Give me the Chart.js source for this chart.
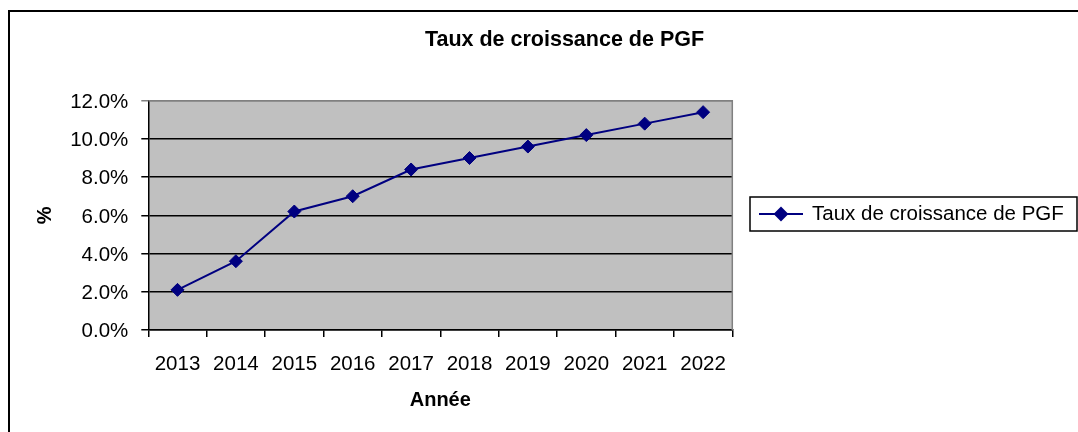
<!DOCTYPE html>
<html>
<head>
<meta charset="utf-8">
<script src="https://cdn.jsdelivr.net/npm/chart.js@4/dist/chart.umd.min.js"></script>
<style>
  html, body { margin: 0; padding: 0; background: #fff; }
  #wrap { width: 1078px; height: 432px; position: relative; }
</style>
</head>
<body>
<div id="wrap"><canvas id="c" width="1078" height="432"></canvas></div>
<script>
// ---- Data ----
const chartTitle = 'Taux de croissance de PGF';
const xAxisTitle = 'Année';
const yAxisTitle = '%';
const seriesName = 'Taux de croissance de PGF';
const categories = ['2013', '2014', '2015', '2016', '2017', '2018', '2019', '2020', '2021', '2022'];
const growthRates = [2.1, 3.6, 6.2, 7.0, 8.4, 9.0, 9.6, 10.2, 10.8, 11.4];
const yMin = 0, yMax = 12, yStep = 2;

const FONT = '"Liberation Sans", Arial, sans-serif';
Chart.defaults.font.family = FONT;
Chart.defaults.color = '#000';

const lineColor = '#000080';
const plotBg = '#C0C0C0';

const decorPlugin = {
  id: 'decor',
  beforeDraw(chart) {
    const { ctx, chartArea: a } = chart;
    ctx.save();
    ctx.fillStyle = '#fff';
    ctx.fillRect(0, 0, chart.width, chart.height);
    ctx.fillStyle = plotBg;
    ctx.fillRect(a.left, a.top, a.right - a.left, a.bottom - a.top);
    ctx.restore();
  },
  beforeDatasetsDraw(chart) {
    const { ctx, chartArea: a } = chart;
    ctx.save();
    ctx.strokeStyle = '#808080';
    ctx.lineWidth = 1.5;
    ctx.beginPath();
    ctx.moveTo(a.left, a.top);
    ctx.lineTo(a.right, a.top);
    ctx.lineTo(a.right, a.bottom);
    ctx.stroke();
    ctx.restore();
  },
  afterDraw(chart) {
    const { ctx } = chart;
    ctx.save();
    // outer chart border
    ctx.strokeStyle = '#000';
    ctx.lineWidth = 2;
    ctx.beginPath();
    ctx.moveTo(9, chart.height + 2);
    ctx.lineTo(9, 11);
    ctx.lineTo(chart.width + 2, 11);
    ctx.stroke();

    // title
    ctx.fillStyle = '#000';
    ctx.font = 'bold 21.5px ' + FONT;
    ctx.textAlign = 'center';
    ctx.textBaseline = 'middle';
    ctx.fillText(chartTitle, 564.5, 40);

    // legend
    const ds = chart.data.datasets[0];
    const lx = 750, ly = 197, lw = 327, lh = 34;
    ctx.fillStyle = '#fff';
    ctx.fillRect(lx, ly, lw, lh);
    ctx.strokeStyle = '#000';
    ctx.lineWidth = 1.5;
    ctx.strokeRect(lx, ly, lw, lh);
    const cy = ly + lh / 2;
    ctx.strokeStyle = ds.borderColor;
    ctx.lineWidth = 2;
    ctx.beginPath();
    ctx.moveTo(759, cy);
    ctx.lineTo(803, cy);
    ctx.stroke();
    ctx.fillStyle = ds.pointBackgroundColor;
    Chart.helpers.drawPoint(ctx, { pointStyle: 'rectRot', radius: 6, borderWidth: 1 }, 781, cy);
    ctx.fill();
    ctx.fillStyle = '#000';
    ctx.font = '20.5px ' + FONT;
    ctx.textAlign = 'left';
    ctx.textBaseline = 'middle';
    ctx.fillText(ds.label, 812, cy);
    ctx.restore();
  }
};

new Chart(document.getElementById('c'), {
  type: 'line',
  data: {
    labels: categories,
    datasets: [{
      label: seriesName,
      data: growthRates,
      borderColor: lineColor,
      backgroundColor: lineColor,
      borderWidth: 2,
      pointStyle: 'rectRot',
      pointRadius: 6.5,
      pointBackgroundColor: lineColor,
      pointBorderColor: lineColor,
      pointBorderWidth: 1,
      tension: 0,
      fill: false
    }]
  },
  options: {
    responsive: false,
    animation: false,
    layout: { padding: { left: 0, top: 100.7, right: 1078 - 732.3, bottom: 0 } },
    plugins: {
      legend: { display: false },
      title: { display: false },
      tooltip: { enabled: false }
    },
    scales: {
      x: {
        type: 'category',
        offset: true,
        afterFit(s) { s.height = 102; },
        grid: {
          offset: true,
          drawOnChartArea: false,
          drawTicks: true,
          tickLength: 7,
          color: '#000',
          lineWidth: 1.5
        },
        border: { display: true, color: '#000', width: 1.5 },
        ticks: {
          font: { size: 20.5 },
          padding: 15,
          maxRotation: 0,
          autoSkip: false
        },
        title: {
          display: true,
          text: xAxisTitle,
          font: { size: 20, weight: 'bold' },
          padding: { top: 0, bottom: 20 }
        }
      },
      y: {
        min: yMin,
        max: yMax,
        afterFit(s) { s.width = 148.3; },
        grid: {
          drawTicks: true,
          tickLength: 7,
          color: (c) => (c.tick && c.tick.value === yMax ? '#808080' : '#000'),
          lineWidth: 1.5
        },
        border: { display: true, color: '#000', width: 1.5 },
        ticks: {
          stepSize: yStep,
          font: { size: 20.5 },
          padding: 13,
          labelOffset: 1.5,
          callback: (v) => Number(v).toFixed(1) + '%'
        },
        title: {
          display: true,
          text: yAxisTitle,
          font: { size: 20, weight: 'bold' },
          padding: { top: 33, bottom: 0 }
        }
      }
    }
  },
  plugins: [decorPlugin]
});
</script>
</body>
</html>
